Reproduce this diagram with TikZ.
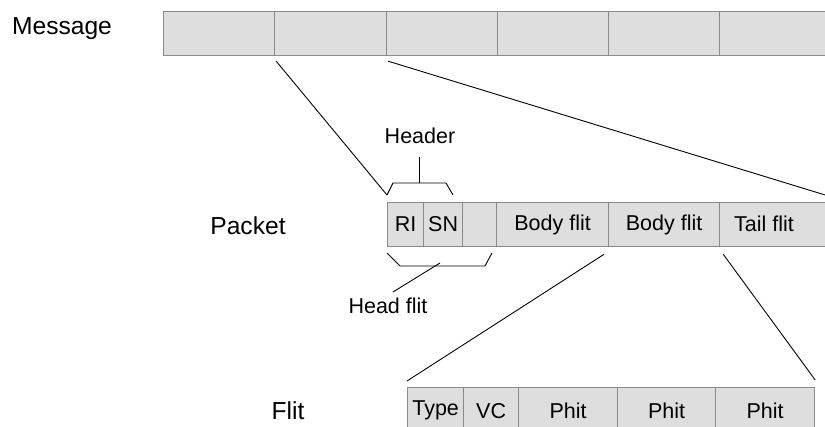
\documentclass[tikz,border=0pt]{standalone}
\usepackage{fontspec}
\setmainfont{Liberation Sans}
\definecolor{cellfill}{HTML}{DEDEDE}
\definecolor{cellline}{HTML}{8A8A8A}
\begin{document}
\begin{tikzpicture}[x=1pt,y=-1pt,
  cell/.style={draw=cellline, line width=1.2pt, fill=cellfill, inner sep=0pt,
    anchor=north west, minimum height=44pt,
    font=\fontsize{21.5}{24}\selectfont},
  biglabel/.style={font=\fontsize{24.6}{28}\selectfont, inner sep=0pt},
  smalllabel/.style={font=\fontsize{21.5}{24}\selectfont, inner sep=0pt},
  link/.style={draw=black, line width=0.9pt}]
\useasboundingbox (0,0) rectangle (825,427);

% row labels
\node[biglabel] (lmsg) at (62,29) {Message};
\node[biglabel] (lpkt) at (248,226) {Packet};
\node[biglabel] (lflit) at (288,411) {Flit};

% message row
\node[cell, minimum width=111pt] (m1) at (163,11) {};
\node[cell, minimum width=112pt] (m2) at (274,11) {};
\node[cell, minimum width=111pt] (m3) at (386,11) {};
\node[cell, minimum width=111pt] (m4) at (497,11) {};
\node[cell, minimum width=111pt] (m5) at (608,11) {};
\node[cell, minimum width=140pt] (m6) at (719,11) {};

% packet row
\node[cell, minimum width=36pt] (p1) at (387,202) {RI};
\node[cell, minimum width=39pt] (p2) at (423,202) {SN};
\node[cell, minimum width=34pt] (p3) at (462,202) {};
\node[cell, minimum width=112pt] (p4) at (496,202) {Body flit};
\node[cell, minimum width=111pt] (p5) at (608,202) {Body flit};
\node[cell, minimum width=150pt] (p6) at (719,202) {};
\node[smalllabel] (ptail) at (764,224) {Tail flit};

% flit row
\node[cell, minimum width=56pt, minimum height=46pt] (f1) at (407,387) {Type};
\node[cell, minimum width=55pt, minimum height=46pt] (f2) at (463,387) {VC};
\node[cell, minimum width=99pt, minimum height=46pt] (f3) at (518,387) {Phit};
\node[cell, minimum width=98pt, minimum height=46pt] (f4) at (617,387) {Phit};
\node[cell, minimum width=99pt, minimum height=46pt] (f5) at (715,387) {Phit};

% header bracket above RI and SN
\node[smalllabel] (lhdr) at (420,136) {Header};
\coordinate (hl) at (387,195);
\coordinate (hr) at (453,195);
\coordinate (hs) at (419,183);
\coordinate (ht) at (419,157);
\draw[link] (hl) -- (393,183) -- (446,183) -- (hr);
\draw[link] (hs) -- (ht);

% head flit bracket below the first three cells
\node[smalllabel] (lhead) at (388,306) {Head flit};
\coordinate (bl) at (387,253);
\coordinate (br) at (492,253);
\coordinate (bs) at (440,263);
\coordinate (be) at (393,292);
\draw[link] (bl) -- (400,266) -- (485,266) -- (br);
\draw[link] (bs) -- (be);

% message to packet
\draw[link] ([shift={(1pt,-5pt)}]m1.south east) -- (hl);
\draw[link] ([shift={(1pt,-5pt)}]m2.south east) -- (848,202);

% packet to flit
\draw[link] ([shift={(-5pt,-7pt)}]p4.south east) -- ([shift={(0pt,6pt)}]f1.north west);
\draw[link] ([shift={(3pt,-7pt)}]p5.south east) -- ([shift={(0pt,7pt)}]f5.north east);
\end{tikzpicture}
\end{document}
